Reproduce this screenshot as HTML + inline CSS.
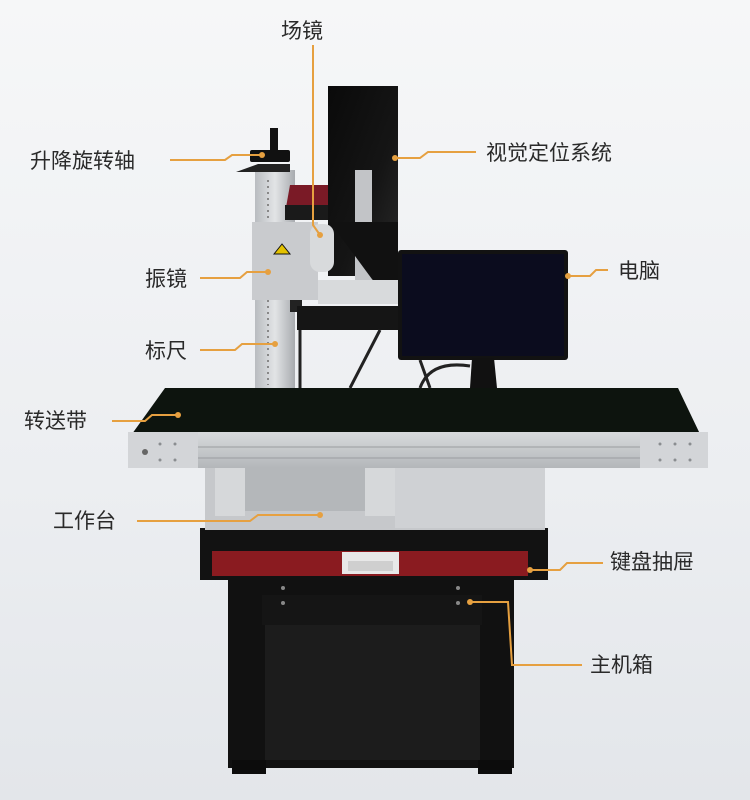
<!DOCTYPE html>
<html><head><meta charset="utf-8"><style>
html,body{margin:0;padding:0;width:750px;height:800px;overflow:hidden;background:#eef0f2}
svg{display:block}
text{font-family:"Liberation Sans","Noto Sans CJK SC",sans-serif;font-size:21px;fill:#2a2a2a}
</style></head><body>
<svg width="750" height="800" viewBox="0 0 750 800" xmlns="http://www.w3.org/2000/svg">
<defs>
<linearGradient id="bg" x1="0" y1="0" x2="0" y2="1">
<stop offset="0" stop-color="#f6f7f8"/><stop offset="0.6" stop-color="#eceef1"/><stop offset="1" stop-color="#e3e6ea"/></linearGradient>
<linearGradient id="col" x1="0" y1="0" x2="1" y2="0">
<stop offset="0" stop-color="#b9bcc0"/><stop offset="0.5" stop-color="#e2e4e6"/><stop offset="1" stop-color="#a8abaf"/></linearGradient>
<linearGradient id="rail" x1="0" y1="0" x2="0" y2="1">
<stop offset="0" stop-color="#d8dadc"/><stop offset="1" stop-color="#b4b7ba"/></linearGradient>
<linearGradient id="vis" x1="0" y1="0" x2="1" y2="1">
<stop offset="0" stop-color="#0a0a0a"/><stop offset="0.6" stop-color="#151515"/><stop offset="1" stop-color="#2a2a2a"/></linearGradient>
</defs>
<rect width="750" height="800" fill="url(#bg)"/>

<!-- lower cabinet -->
<rect x="228" y="578" width="286" height="190" fill="#111"/>
<rect x="265" y="620" width="215" height="140" fill="#1c1c1c"/>
<rect x="262" y="595" width="220" height="30" fill="#151515"/>
<circle cx="283" cy="588" r="2" fill="#888"/><circle cx="283" cy="603" r="2" fill="#888"/>
<circle cx="458" cy="588" r="2" fill="#888"/><circle cx="458" cy="603" r="2" fill="#888"/>
<rect x="232" y="760" width="34" height="14" fill="#0c0c0c"/><rect x="478" y="760" width="34" height="14" fill="#0c0c0c"/>

<!-- drawer band -->
<rect x="200" y="528" width="348" height="52" fill="#121212"/>
<rect x="212" y="551" width="316" height="25" fill="#8a1b20"/>
<rect x="342" y="552" width="57" height="22" fill="#e8e8e8"/>
<rect x="348" y="561" width="45" height="10" fill="#cfcfcf"/>

<!-- table top -->
<rect x="205" y="466" width="340" height="64" fill="#c6c8cb"/>
<rect x="240" y="466" width="140" height="45" fill="#b4b7ba"/>
<rect x="215" y="466" width="30" height="50" fill="#d6d8da"/>
<rect x="365" y="466" width="30" height="50" fill="#d6d8da"/>
<rect x="395" y="466" width="150" height="62" fill="#cfd1d4"/>

<!-- conveyor -->
<polygon points="165,388 678,388 700,434 132,434" fill="#0d140e"/>
<rect x="128" y="432" width="580" height="36" fill="url(#rail)"/>
<rect x="128" y="432" width="70" height="36" fill="#d3d5d8"/>
<rect x="640" y="432" width="68" height="36" fill="#d3d5d8"/>
<line x1="198" y1="447" x2="640" y2="447" stroke="#9a9da0" stroke-width="1"/>
<line x1="198" y1="458" x2="640" y2="458" stroke="#9a9da0" stroke-width="1"/>
<circle cx="145" cy="452" r="3" fill="#666"/>
<g fill="#8a8d90"><circle cx="160" cy="444" r="1.5"/><circle cx="175" cy="444" r="1.5"/><circle cx="160" cy="460" r="1.5"/><circle cx="175" cy="460" r="1.5"/><circle cx="660" cy="444" r="1.5"/><circle cx="675" cy="444" r="1.5"/><circle cx="690" cy="444" r="1.5"/><circle cx="660" cy="460" r="1.5"/><circle cx="675" cy="460" r="1.5"/><circle cx="690" cy="460" r="1.5"/></g>

<!-- column -->
<rect x="255" y="170" width="40" height="218" fill="url(#col)"/>
<line x1="268" y1="180" x2="268" y2="385" stroke="#888" stroke-width="2" stroke-dasharray="2,4"/>
<!-- handwheel -->
<rect x="270" y="128" width="8" height="22" fill="#111"/>
<rect x="250" y="150" width="40" height="12" rx="2" fill="#111"/>
<polygon points="236,172 258,164 290,164 290,172" fill="#222"/>

<!-- red block -->
<polygon points="290,185 330,185 330,213 285,213" fill="#7a1a26"/>
<rect x="285" y="205" width="45" height="15" fill="#1a1a1a"/>

<!-- vision system -->
<rect x="328" y="86" width="70" height="190" fill="url(#vis)"/>
<rect x="355" y="170" width="17" height="130" fill="#c2c4c7"/>
<polygon points="330,222 398,222 398,290 380,290" fill="#111"/>

<!-- galvo -->
<rect x="252" y="222" width="66" height="78" fill="#c9cbce"/>
<rect x="310" y="224" width="24" height="48" rx="10" fill="#d8dadc"/>
<polygon points="274,254 282,244 290,254" fill="#e4c200" stroke="#111" stroke-width="1"/>
<rect x="290" y="300" width="12" height="12" fill="#222"/>

<!-- stage -->
<rect x="318" y="280" width="112" height="24" fill="#d8dadc"/>
<rect x="420" y="282" width="14" height="36" fill="#9a9da0"/>
<rect x="297" y="306" width="124" height="24" fill="#151515"/>
<path d="M300 330 L300 388 M380 330 L350 388 M420 360 L430 388" stroke="#222" stroke-width="3" fill="none"/>

<!-- monitor -->
<rect x="398" y="250" width="170" height="110" rx="3" fill="#121212"/>
<rect x="402" y="254" width="162" height="102" fill="#0b0c1e"/>
<polygon points="472,358 494,358 497,388 470,388" fill="#111"/>
<path d="M420 388 Q430 360 470 366" stroke="#222" stroke-width="3" fill="none"/>

<!-- leader lines -->
<g stroke="#e6a040" stroke-width="2" fill="none">
<path d="M313 45 L313 225 L320 235"/>
<path d="M170 160 L225 160 L232 155 L262 155"/>
<path d="M395 158 L420 158 L428 152 L476 152"/>
<path d="M568 276 L590 276 L596 270 L608 270"/>
<path d="M200 278 L240 278 L247 272 L268 272"/>
<path d="M200 350 L235 350 L242 344 L275 344"/>
<path d="M112 421 L145 421 L152 415 L178 415"/>
<path d="M137 521 L250 521 L258 515 L320 515"/>
<path d="M530 570 L560 570 L567 563 L603 563"/>
<path d="M470 602 L508 602 L512 665 L582 665"/>
</g>
<g fill="#e6a040">
<circle cx="320" cy="235" r="3"/><circle cx="262" cy="155" r="3"/><circle cx="395" cy="158" r="3"/>
<circle cx="568" cy="276" r="3"/><circle cx="268" cy="272" r="3"/><circle cx="275" cy="344" r="3"/>
<circle cx="178" cy="415" r="3"/><circle cx="320" cy="515" r="3"/><circle cx="530" cy="570" r="3"/><circle cx="470" cy="602" r="3"/>
</g>

<!-- labels -->
<text x="281" y="38">场镜</text>
<text x="30" y="168">升降旋转轴</text>
<text x="486" y="160">视觉定位系统</text>
<text x="618" y="278">电脑</text>
<text x="145" y="286">振镜</text>
<text x="145" y="358">标尺</text>
<text x="24" y="428">转送带</text>
<text x="53" y="528">工作台</text>
<text x="610" y="569">键盘抽屉</text>
<text x="590" y="672">主机箱</text>
</svg>
</body></html>
